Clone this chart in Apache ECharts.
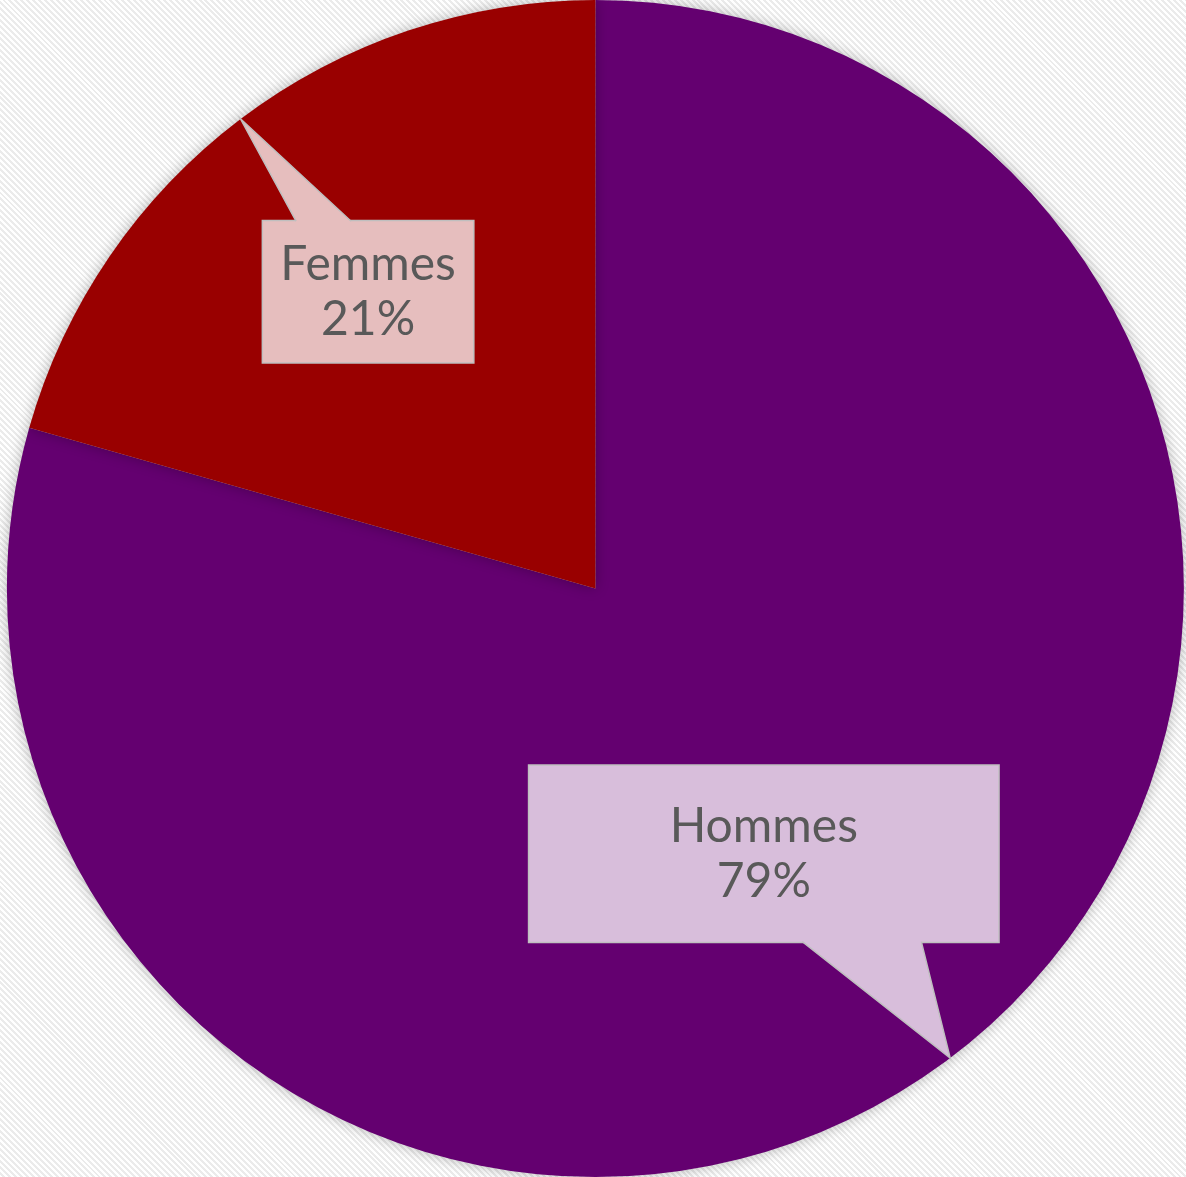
<!DOCTYPE html>
<html>
<head>
<meta charset="utf-8">
<script src="https://cdn.jsdelivr.net/npm/echarts@6/dist/echarts.min.js"></script>
<style>
html,body{margin:0;padding:0;}
#chart{width:1186px;height:1177px;background:repeating-linear-gradient(45deg,#ffffff 0px,#ffffff 2.1px,#ebebeb 2.1px,#ebebeb 4.2px);}
</style>
</head>
<body>
<div id="chart"></div>
<script>
const categories = ['Hommes', 'Femmes'];
const values = [79.4, 20.6];
const sliceColors = ['#640070', '#990000'];
const boxColors = ['#d8bedb', '#e6bebe'];

// Label box geometry relative to pie centre, in units of radius (style only)
const boxes = [
  { dx: -66 / 588, dy: 177 / 588, w: 469, h: 176, side: 'bottom', b0: 273, b1: 392 },
  { dx: -332 / 588, dy: -367 / 588, w: 210, h: 141, side: 'top', b0: 33, b1: 88 }
];

const el = document.getElementById('chart');
const chart = echarts.init(el, null, { renderer: 'canvas' });
const W = el.clientWidth, H = el.clientHeight;
const CX = W * 0.502, CY = H * 0.5, R = Math.min(W, H) / 2;

const fontFamily = 'Lato, "Open Sans", sans-serif';

const data = categories.map((name, i) => ({
  name: name,
  value: values[i],
  itemStyle: { color: sliceColors[i] },
  label: {
    backgroundColor: boxColors[i],
    width: boxes[i].w,
    padding: [(boxes[i].h - 110) / 2, 0],
    borderColor: '#bfbfbf',
    borderWidth: 1.5
  }
}));

chart.setOption({
  animation: false,
  series: [{
    type: 'pie',
    center: ['50.2%', '50%'],
    radius: ['0%', '100%'],
    startAngle: 90,
    clockwise: true,
    data: data,
    itemStyle: {
      borderWidth: 0,
      shadowBlur: 14,
      shadowColor: 'rgba(0,0,0,0.28)'
    },
    emphasis: { disabled: true },
    labelLine: { show: false },
    label: {
      show: true,
      position: 'inside',
      formatter: function (p) { return p.name + '\n' + Math.round(p.percent) + '%'; },
      color: '#595959',
      fontFamily: fontFamily,
      fontSize: 48,
      lineHeight: 55,
      align: 'center',
      verticalAlign: 'middle'
    },
    labelLayout: function (p) {
      const b = boxes[p.dataIndex];
      return {
        x: CX + b.dx * R + b.w / 2,
        y: CY + b.dy * R + b.h / 2,
        align: 'center',
        verticalAlign: 'middle',
        hideOverlap: false,
        moveOverlap: null
      };
    }
  }]
});

// Callout pointers: tip on the outer edge at each slice's mid-angle (from the library's layout)
const seriesData = chart.getModel().getSeriesByIndex(0).getData();
const graphics = [];
categories.forEach((name, i) => {
  const lay = seriesData.getItemLayout(i);
  const mid = (lay.startAngle + lay.endAngle) / 2;
  const tip = [lay.cx + lay.r * Math.cos(mid), lay.cy + lay.r * Math.sin(mid)];
  const b = boxes[i];
  const left = CX + b.dx * R, top = CY + b.dy * R;
  const by = b.side === 'top' ? top : top + b.h;
  const inward = b.side === 'top' ? 1.5 : -1.5;
  const p0 = [left + b.b0, by], p1 = [left + b.b1, by];
  graphics.push({
    type: 'polygon',
    z: 100,
    shape: { points: [[p0[0], by + inward], p0, tip, p1, [p1[0], by + inward]] },
    style: { fill: boxColors[i], stroke: null }
  });
  graphics.push({
    type: 'polyline',
    z: 101,
    shape: { points: [p0, tip, p1] },
    style: { stroke: '#bfbfbf', lineWidth: 1.5, fill: null }
  });
});
chart.setOption({ graphic: graphics });
</script>
</body>
</html>
